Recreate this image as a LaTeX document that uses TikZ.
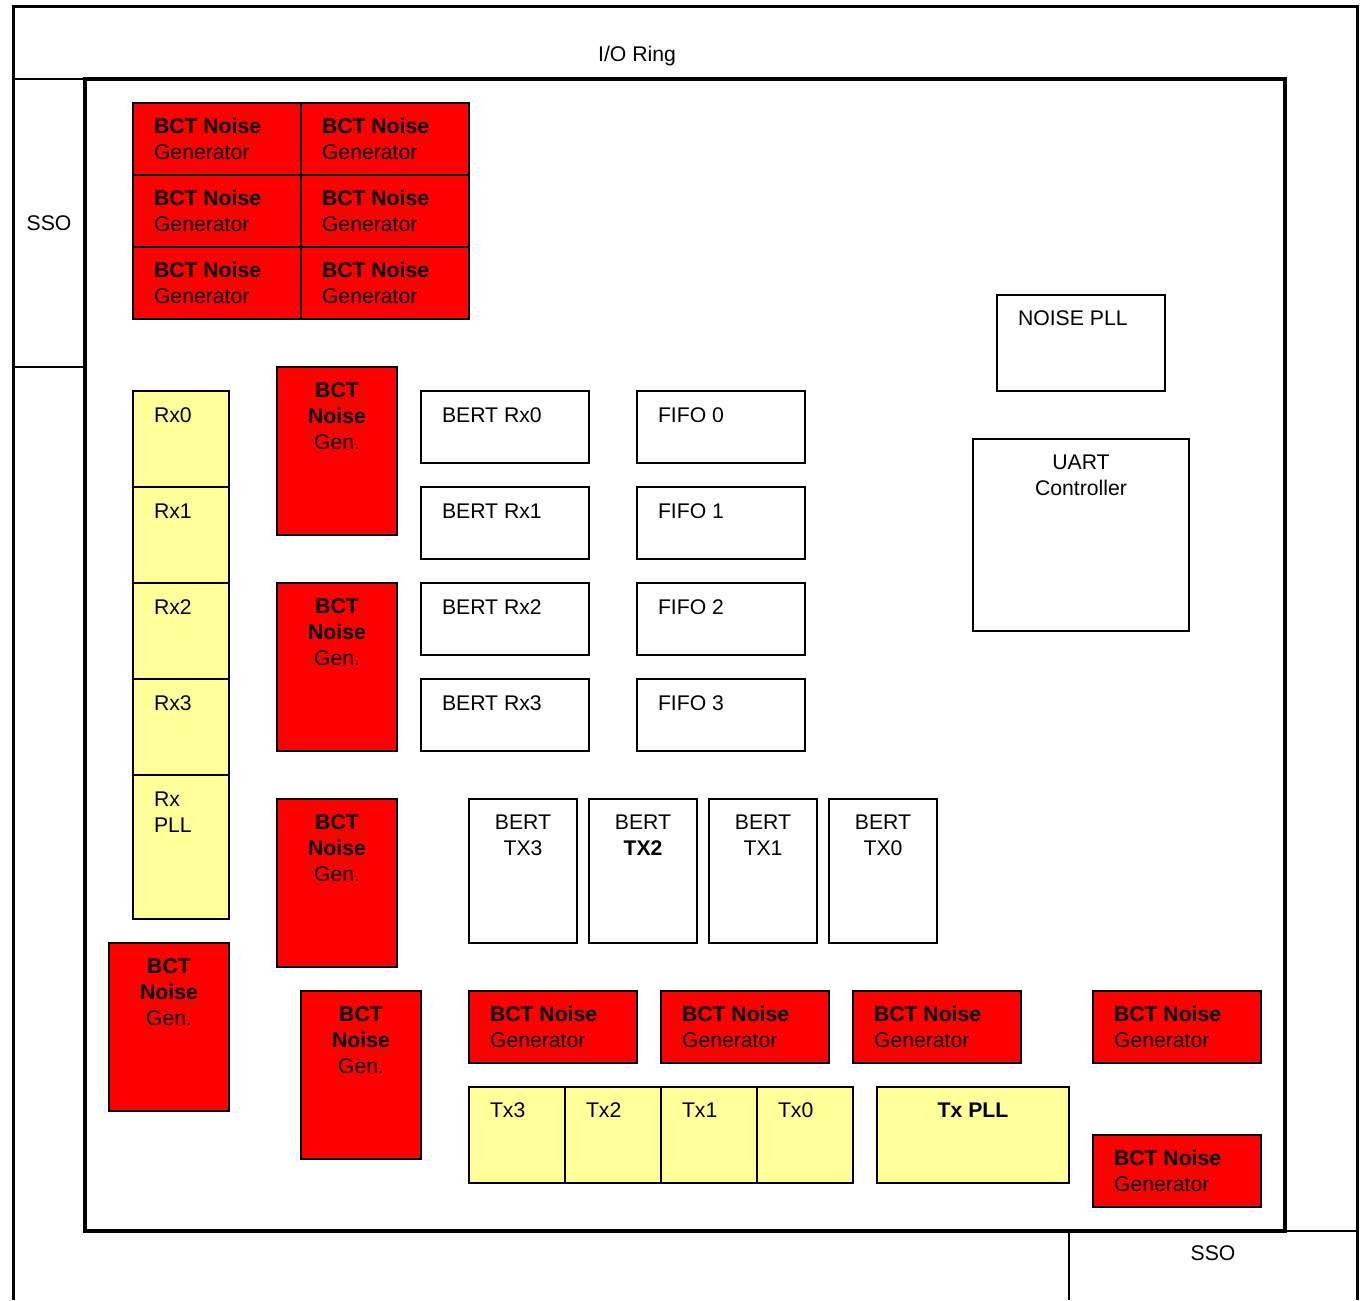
\documentclass[tikz,border=0pt]{standalone}
\usepackage{fontspec}
\setmainfont{Liberation Sans}
\definecolor{bctred}{HTML}{FF0000}
\definecolor{padyel}{HTML}{FFFF99}
\tikzset{
  txt/.style={inner sep=0pt, outer sep=0pt, font=\fontsize{21.2}{26}\selectfont},
  blkbase/.style={draw=black, line width=2pt, inner sep=0pt, outer sep=0pt, rectangle},
  redblk/.style={blkbase, fill=bctred},
  yelblk/.style={blkbase, fill=padyel},
  whtblk/.style={blkbase, fill=white},
  chip/.style={draw=black, line width=4pt, inner sep=0pt, outer sep=0pt, rectangle},
  frame/.style={draw=black, line width=3pt},
  thin/.style={draw=black, line width=2pt},
}
\newcommand\blk[6]{\node[#6, anchor=north west, minimum width={#4-(#2)}, minimum height={#5-(#3)}] (#1) at (#2,#3) {};}
\newcommand\lt[4]{\node[txt,anchor=base west] (#1) at (#2,#3+7.5) {#4};}
\newcommand\ct[4]{\node[txt,anchor=base] (#1) at (#2,#3+7.5) {#4};}
\newcommand\gen[3]{\blk{#1}{#2}{#3}{#2+168}{#3+72}{redblk}
  \lt{#1a}{#2+21}{#3+23}{\bfseries BCT Noise}
  \lt{#1b}{#2+21}{#3+49}{Generator}}
\newcommand\tgen[3]{\blk{#1}{#2}{#3}{#2+120}{#3+168}{redblk}
  \ct{#1a}{#2+60}{#3+23}{\bfseries BCT}
  \ct{#1b}{#2+60}{#3+49}{\bfseries Noise}
  \ct{#1c}{#2+60}{#3+75}{Gen.}}
\begin{document}
\begin{tikzpicture}[x=1pt,y=-1pt]
\useasboundingbox (0,0) rectangle (1364,1300);
% outer I/O ring frame
\draw[frame] (13,1300) -- (13,7) -- (1357,7) -- (1357,1300);
\draw[thin] (13,79) -- (85,79);
\draw[thin] (13,367) -- (85,367);
\draw[thin] (1285,1231) -- (1357,1231);
\draw[thin] (1069,1231) -- (1069,1300);
\ct{io}{637}{54}{I/O Ring}
\ct{ssoL}{49}{223}{SSO}
\ct{ssoB}{1213}{1253}{SSO}
% chip core
\blk{core}{85}{79}{1285}{1231}{chip}
% top generator grid
\gen{g11}{133}{103} \gen{g12}{301}{103}
\gen{g21}{133}{175} \gen{g22}{301}{175}
\gen{g31}{133}{247} \gen{g32}{301}{247}
% NOISE PLL, UART
\blk{npll}{997}{295}{1165}{391}{whtblk}
\lt{nplltxt}{1018}{318}{NOISE PLL}
\blk{uart}{973}{439}{1189}{631}{whtblk}
\ct{uarta}{1081}{462}{UART}
\ct{uartb}{1081}{488}{Controller}
% Rx column
\blk{rx0}{133}{391}{229}{487}{yelblk} \lt{rx0t}{154}{415}{Rx0}
\blk{rx1}{133}{487}{229}{583}{yelblk} \lt{rx1t}{154}{511}{Rx1}
\blk{rx2}{133}{583}{229}{679}{yelblk} \lt{rx2t}{154}{607}{Rx2}
\blk{rx3}{133}{679}{229}{775}{yelblk} \lt{rx3t}{154}{703}{Rx3}
\blk{rxpll}{133}{775}{229}{919}{yelblk}
\lt{rxpllA}{154}{799}{Rx}
\lt{rxpllB}{154}{825}{PLL}
% tall generators
\tgen{tg1}{277}{367}
\tgen{tg2}{277}{583}
\tgen{tg3}{277}{799}
\tgen{tg4}{109}{943}
\tgen{tg5}{301}{991}
% BERT Rx and FIFO
\blk{br0}{421}{391}{589}{463}{whtblk} \lt{br0t}{442}{415}{BERT Rx0}
\blk{br1}{421}{487}{589}{559}{whtblk} \lt{br1t}{442}{511}{BERT Rx1}
\blk{br2}{421}{583}{589}{655}{whtblk} \lt{br2t}{442}{607}{BERT Rx2}
\blk{br3}{421}{679}{589}{751}{whtblk} \lt{br3t}{442}{703}{BERT Rx3}
\blk{ff0}{637}{391}{805}{463}{whtblk} \lt{ff0t}{658}{415}{FIFO 0}
\blk{ff1}{637}{487}{805}{559}{whtblk} \lt{ff1t}{658}{511}{FIFO 1}
\blk{ff2}{637}{583}{805}{655}{whtblk} \lt{ff2t}{658}{607}{FIFO 2}
\blk{ff3}{637}{679}{805}{751}{whtblk} \lt{ff3t}{658}{703}{FIFO 3}
% BERT TX
\blk{bt3}{469}{799}{577}{943}{whtblk} \ct{bt3a}{523}{822}{BERT} \ct{bt3b}{523}{848}{TX3}
\blk{bt2}{589}{799}{697}{943}{whtblk} \ct{bt2a}{643}{822}{BERT} \ct{bt2b}{643}{848}{\bfseries TX2}
\blk{bt1}{709}{799}{817}{943}{whtblk} \ct{bt1a}{763}{822}{BERT} \ct{bt1b}{763}{848}{TX1}
\blk{bt0}{829}{799}{937}{943}{whtblk} \ct{bt0a}{883}{822}{BERT} \ct{bt0b}{883}{848}{TX0}
% bottom generators
\gen{gb1}{469}{991} \gen{gb2}{661}{991} \gen{gb3}{853}{991} \gen{gb4}{1093}{991}
\gen{gb5}{1093}{1135}
% Tx pads
\blk{tx3}{469}{1087}{565}{1183}{yelblk} \lt{tx3t}{490}{1110}{Tx3}
\blk{tx2}{565}{1087}{661}{1183}{yelblk} \lt{tx2t}{586}{1110}{Tx2}
\blk{tx1}{661}{1087}{757}{1183}{yelblk} \lt{tx1t}{682}{1110}{Tx1}
\blk{tx0}{757}{1087}{853}{1183}{yelblk} \lt{tx0t}{778}{1110}{Tx0}
\blk{txpll}{877}{1087}{1069}{1183}{yelblk} \ct{txpllt}{973}{1110}{\bfseries Tx PLL}
\end{tikzpicture}
\end{document}
